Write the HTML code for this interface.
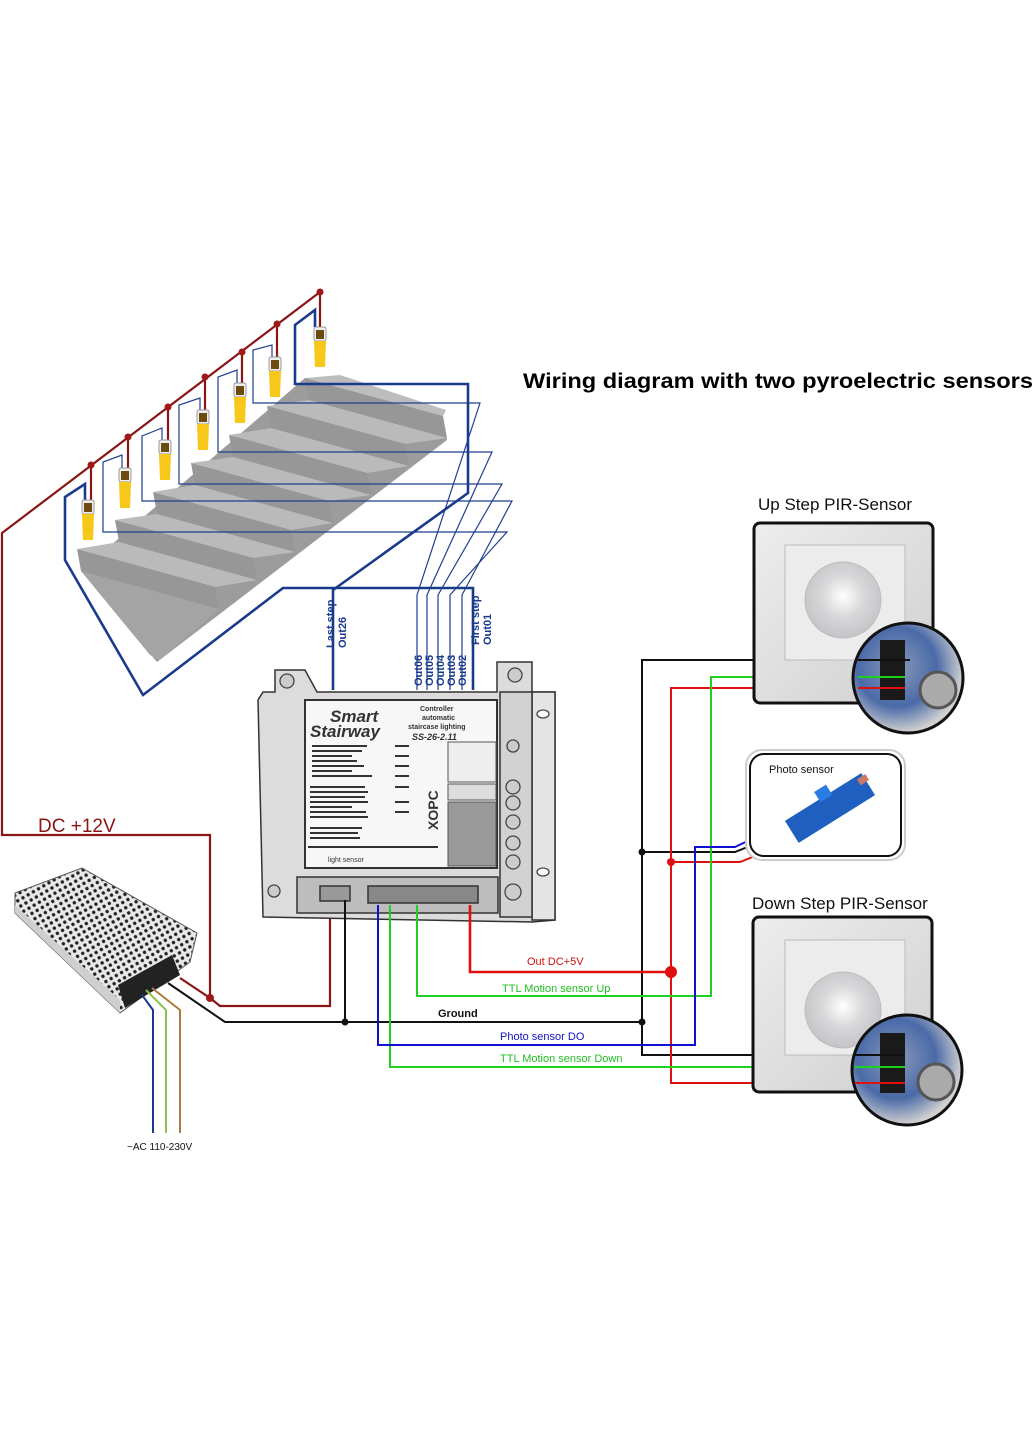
<!DOCTYPE html>
<html><head><meta charset="utf-8"><style>
html,body{margin:0;padding:0;background:#fff}
svg{display:block}
text{font-family:"Liberation Sans",sans-serif}
</style></head><body>
<svg width="1035" height="1440" viewBox="0 0 1035 1440" xmlns="http://www.w3.org/2000/svg">
<defs>
<pattern id="perf" width="6" height="6" patternUnits="userSpaceOnUse" patternTransform="rotate(-30)">
<rect width="6" height="6" fill="#e8e8e8"/><circle cx="3" cy="3" r="1.7" fill="#222"/></pattern>
<radialGradient id="dome" cx="0.5" cy="0.45" r="0.55"><stop offset="0" stop-color="#ffffff"/><stop offset="0.5" stop-color="#d8d8da"/><stop offset="1" stop-color="#c4c4c8"/></radialGradient>
<linearGradient id="plate" x1="0" y1="0" x2="1" y2="1"><stop offset="0" stop-color="#ededed"/><stop offset="1" stop-color="#cfcfcf"/></linearGradient>
<radialGradient id="mag" cx="0.4" cy="0.4" r="0.6"><stop offset="0" stop-color="#8a9ab8"/><stop offset="0.6" stop-color="#4a6aa8"/><stop offset="1" stop-color="#d0d0d0"/></radialGradient>
</defs>

<text x="523" y="388" font-size="21" font-weight="bold" fill="#000" textLength="510" lengthAdjust="spacingAndGlyphs">Wiring diagram with two pyroelectric sensors</text>

<!-- staircase -->
<polygon points="81,571 157,662 447,440 443,417 305,378" fill="#9c9c9c"/>
<g stroke="none">
<polygon points="305,378 340,375 446,410 443,416" fill="#bdbdbd"/>
<polygon points="305,378 443,416 447,438 309,400" fill="#979797"/>
<polygon points="309,400 447,438 405,444 267,406" fill="#bababa"/>
<polygon points="267,406 405,444 409,466 271,428" fill="#979797"/>
<polygon points="271,428 409,466 367,473 229,435" fill="#bababa"/>
<polygon points="229,435 367,473 371,495 233,457" fill="#979797"/>
<polygon points="233,457 371,495 329,501 191,463" fill="#bababa"/>
<polygon points="191,463 329,501 333,523 195,485" fill="#979797"/>
<polygon points="195,485 333,523 291,530 153,492" fill="#bababa"/>
<polygon points="153,492 291,530 295,552 157,514" fill="#979797"/>
<polygon points="157,514 295,552 253,558 115,520" fill="#bababa"/>
<polygon points="115,520 253,558 257,580 119,542" fill="#979797"/>
<polygon points="119,542 257,580 215,587 77,549" fill="#bababa"/>
<polygon points="77,549 215,587 219,609 81,571" fill="#979797"/>
<polygon points="81,571 219,609 160,660 150,655" fill="#a4a4a4"/>
</g>

<g stroke="#8b1414" stroke-width="2.2" fill="none">
<path d="M320,292 L2,533 V835 H210 V998 L220,1006 H330 V900"/>
<path d="M180,978 L210,998"/>
<path d="M91,465 V500 M128,437 V468 M168,407 V440 M205,377 V410 M242,352 V383 M277,324 V357 M320,292 V327"/>
</g>
<g fill="#a01818">
<circle cx="91" cy="465" r="3.5"/><circle cx="128" cy="437" r="3.5"/><circle cx="168" cy="407" r="3.5"/><circle cx="205" cy="377" r="3.5"/><circle cx="242" cy="352" r="3.5"/><circle cx="277" cy="324" r="3.5"/><circle cx="320" cy="292" r="3.5"/><circle cx="210" cy="998" r="4"/>
</g>

<g stroke="#1a3a8c" stroke-width="2.6" fill="none">
<path d="M85,500 V484 L65,497 V560 L143,695 L283,588 H473 V690"/>
<path d="M315,327 V310 L295,325 V384 H468 V493 L333,590 V690"/>
</g>
<g stroke="#1f3f8f" stroke-width="1.2" fill="none">
<path d="M122,468 V455 L103,462 V532 H507 L450,595 V690"/>
<path d="M162,440 V428 L142,436 V501 H512 L462,595 V690"/>
<path d="M200,410 V398 L179,405 V484 H502 L438,595 V690"/>
<path d="M237,383 V370 L218,377 V452 H492 L427,595 V690"/>
<path d="M272,357 V345 L253,350 V403 H480 L417,595 V690"/>
</g>

<g>
<g transform="translate(88,500)"><rect x="-6" y="0" width="12" height="14" rx="2" fill="#eee" stroke="#999"/><rect x="-4" y="3" width="8" height="9" fill="#6b4b10"/><path d="M-6,14 H6 L5,40 H-5 Z" fill="#f7c719"/></g>
<g transform="translate(125,468)"><rect x="-6" y="0" width="12" height="14" rx="2" fill="#eee" stroke="#999"/><rect x="-4" y="3" width="8" height="9" fill="#6b4b10"/><path d="M-6,14 H6 L5,40 H-5 Z" fill="#f7c719"/></g>
<g transform="translate(165,440)"><rect x="-6" y="0" width="12" height="14" rx="2" fill="#eee" stroke="#999"/><rect x="-4" y="3" width="8" height="9" fill="#6b4b10"/><path d="M-6,14 H6 L5,40 H-5 Z" fill="#f7c719"/></g>
<g transform="translate(203,410)"><rect x="-6" y="0" width="12" height="14" rx="2" fill="#eee" stroke="#999"/><rect x="-4" y="3" width="8" height="9" fill="#6b4b10"/><path d="M-6,14 H6 L5,40 H-5 Z" fill="#f7c719"/></g>
<g transform="translate(240,383)"><rect x="-6" y="0" width="12" height="14" rx="2" fill="#eee" stroke="#999"/><rect x="-4" y="3" width="8" height="9" fill="#6b4b10"/><path d="M-6,14 H6 L5,40 H-5 Z" fill="#f7c719"/></g>
<g transform="translate(275,357)"><rect x="-6" y="0" width="12" height="14" rx="2" fill="#eee" stroke="#999"/><rect x="-4" y="3" width="8" height="9" fill="#6b4b10"/><path d="M-6,14 H6 L5,40 H-5 Z" fill="#f7c719"/></g>
<g transform="translate(320,327)"><rect x="-6" y="0" width="12" height="14" rx="2" fill="#eee" stroke="#999"/><rect x="-4" y="3" width="8" height="9" fill="#6b4b10"/><path d="M-6,14 H6 L5,40 H-5 Z" fill="#f7c719"/></g>
</g>

<g fill="#1a3a8c" font-size="11" font-weight="bold">
<text transform="translate(334,648) rotate(-90)">Last step</text>
<text transform="translate(346,648) rotate(-90)">Out26</text>
<text transform="translate(422,686) rotate(-90)">Out06</text>
<text transform="translate(433,686) rotate(-90)">Out05</text>
<text transform="translate(444,686) rotate(-90)">Out04</text>
<text transform="translate(455,686) rotate(-90)">Out03</text>
<text transform="translate(466,686) rotate(-90)">Out02</text>
<text transform="translate(479,645) rotate(-90)">First step</text>
<text transform="translate(491,645) rotate(-90)">Out01</text>
</g>

<g stroke="#333" stroke-width="1.5">
<polygon points="275,670 305,670 317,692 497,692 497,662 532,662 532,692 555,692 555,920 532,922 263,917 258,700 263,692 275,692" fill="#dcdcdc"/>
<rect x="532" y="692" width="23" height="228" fill="#e4e4e4"/>
<rect x="500" y="692" width="32" height="225" fill="#d2d2d2"/>
<rect x="305" y="700" width="192" height="168" fill="#f7f7f7" stroke-width="2"/>
<rect x="297" y="877" width="201" height="36" fill="#bdbdbd"/>
<rect x="320" y="886" width="30" height="15" fill="#999"/>
<rect x="368" y="886" width="110" height="17" fill="#888"/>
</g>
<g fill="#ccc" stroke="#444" stroke-width="1.3">
<circle cx="287" cy="681" r="7"/><circle cx="515" cy="675" r="7"/><circle cx="274" cy="891" r="6"/><circle cx="513" cy="892" r="8"/>
<circle cx="513" cy="746" r="6"/><circle cx="513" cy="787" r="7"/><circle cx="513" cy="803" r="7"/><circle cx="513" cy="822" r="7"/><circle cx="513" cy="843" r="7"/><circle cx="513" cy="862" r="7"/>
<ellipse cx="543" cy="714" rx="6" ry="4" fill="#fff"/><ellipse cx="543" cy="872" rx="6" ry="4" fill="#fff"/>
</g>
<g fill="#333">
<text x="330" y="722" font-size="17" font-style="italic" font-weight="bold">Smart</text>
<text x="310" y="737" font-size="17" font-style="italic" font-weight="bold">Stairway</text>
<text x="420" y="711" font-size="7" font-weight="bold">Controller</text>
<text x="422" y="720" font-size="7" font-weight="bold">automatic</text>
<text x="408" y="729" font-size="7" font-weight="bold">staircase lighting</text>
<text x="412" y="740" font-size="9" font-weight="bold" font-style="italic">SS-26-2.11</text>
<rect x="312" y="745" width="55" height="2"/><rect x="312" y="750" width="50" height="2"/><rect x="312" y="755" width="40" height="2"/><rect x="312" y="760" width="45" height="2"/><rect x="312" y="765" width="52" height="2"/><rect x="312" y="770" width="40" height="2"/><rect x="312" y="775" width="60" height="2"/>
<rect x="310" y="786" width="55" height="2"/><rect x="310" y="791" width="58" height="2"/><rect x="310" y="796" width="55" height="2"/><rect x="310" y="801" width="58" height="2"/><rect x="310" y="806" width="42" height="2"/><rect x="310" y="811" width="56" height="2"/><rect x="310" y="816" width="58" height="2"/>
<rect x="310" y="827" width="52" height="2"/><rect x="310" y="832" width="48" height="2"/><rect x="310" y="837" width="50" height="2"/>
<rect x="308" y="846" width="130" height="2"/>
<rect x="395" y="745" width="14" height="2"/><rect x="395" y="755" width="14" height="2"/><rect x="395" y="765" width="14" height="2"/><rect x="395" y="775" width="14" height="2"/><rect x="395" y="786" width="14" height="2"/><rect x="395" y="801" width="14" height="2"/><rect x="395" y="811" width="14" height="2"/>
<text transform="translate(438,830) rotate(-90)" font-size="14" font-weight="bold">XOPC</text>
<text x="328" y="862" font-size="7">light sensor</text>
</g>
<rect x="448" y="742" width="48" height="40" fill="#eee" stroke="#555"/>
<rect x="448" y="784" width="48" height="16" fill="#ddd" stroke="#555"/>
<rect x="448" y="802" width="48" height="64" fill="#9a9a9a" stroke="#555"/>

<g fill="none" stroke-width="2">
<path d="M168,983 L225,1022 H642" stroke="#111"/>
<path d="M345,900 V1022" stroke="#111"/>
<path d="M905,660 H642 V1055 H905" stroke="#111"/>
<path d="M642,852 H735 L760,842 L790,825" stroke="#111"/>
<path d="M470,905 V972 H671" stroke="#e01010" stroke-width="2.6"/>
<path d="M905,688 H671 V1083 H905" stroke="#e01010"/>
<path d="M671,862 H740 L770,850 L795,830" stroke="#e01010"/>
<path d="M417,905 V996 H711 V677 H905" stroke="#20d020"/>
<path d="M390,905 V1067 H905" stroke="#20d020"/>
<path d="M378,905 V1045 H695 V847 H735 L775,828" stroke="#1010d0"/>
</g>
<circle cx="671" cy="972" r="6" fill="#e01010"/>
<circle cx="671" cy="862" r="4" fill="#e01010"/>
<circle cx="642" cy="852" r="3.5" fill="#111"/>
<circle cx="642" cy="1022" r="3.5" fill="#111"/>
<circle cx="345" cy="1022" r="3.5" fill="#111"/>

<g font-size="11">
<text x="527" y="965" fill="#d01010">Out DC+5V</text>
<text x="502" y="992" fill="#22c022">TTL Motion sensor Up</text>
<text x="438" y="1017" fill="#111" font-weight="bold">Ground</text>
<text x="500" y="1040" fill="#1010c0">Photo sensor DO</text>
<text x="500" y="1062" fill="#22c022">TTL Motion sensor Down</text>
</g>

<text x="38" y="832" font-size="19" fill="#8b1414">DC +12V</text>

<polygon points="15,893 82,868 197,933 190,962 120,1013 15,913" fill="url(#perf)" stroke="#555"/>
<polygon points="15,905 120,1000 120,1013 15,913" fill="#cfcfcf"/>
<polygon points="118,985 172,955 180,975 125,1008" fill="#222"/>
<g fill="none" stroke-width="2">
<path d="M142,995 L153,1010 V1133" stroke="#1a3a8c"/>
<path d="M146,990 L166,1010 V1133" stroke="#8bc34a"/>
<path d="M152,988 L180,1010 V1133" stroke="#b07840"/>
</g>
<text x="127" y="1150" font-size="10" fill="#111">~AC 110-230V</text>

<text x="758" y="510" font-size="17" fill="#111">Up Step PIR-Sensor</text>
<rect x="754" y="523" width="179" height="180" rx="6" fill="url(#plate)" stroke="#111" stroke-width="3"/>
<rect x="785" y="545" width="120" height="115" fill="#ececec" stroke="#bbb"/>
<circle cx="843" cy="600" r="38" fill="url(#dome)" stroke="#bbb"/>
<circle cx="908" cy="678" r="55" fill="url(#mag)" stroke="#111" stroke-width="3"/>
<rect x="880" y="640" width="25" height="60" fill="#1a1a1a"/>
<circle cx="938" cy="690" r="18" fill="#aaa" stroke="#555" stroke-width="3"/>
<path d="M858,660 H910" stroke="#111" stroke-width="2"/>
<path d="M858,677 H905" stroke="#20d020" stroke-width="2"/>
<path d="M858,688 H905" stroke="#e01010" stroke-width="2"/>

<rect x="746" y="750" width="159" height="110" rx="16" fill="#fff" stroke="#ccc" stroke-width="2"/>
<rect x="750" y="754" width="151" height="102" rx="14" fill="#fff" stroke="#111" stroke-width="2"/>
<text x="769" y="773" font-size="11" fill="#111">Photo sensor</text>
<g transform="translate(830,808) rotate(-32)">
<rect x="-45" y="-13" width="90" height="26" fill="#1e5fc0"/>
<rect x="-5" y="-22" width="14" height="12" fill="#2a7de0"/>
<rect x="38" y="-10" width="10" height="7" fill="#c87a6a"/>
</g>

<text x="752" y="909" font-size="17" fill="#111">Down Step PIR-Sensor</text>
<rect x="753" y="917" width="179" height="175" rx="6" fill="url(#plate)" stroke="#111" stroke-width="3"/>
<rect x="785" y="940" width="120" height="115" fill="#ececec" stroke="#bbb"/>
<circle cx="843" cy="1010" r="38" fill="url(#dome)" stroke="#bbb"/>
<circle cx="907" cy="1070" r="55" fill="url(#mag)" stroke="#111" stroke-width="3"/>
<rect x="880" y="1033" width="25" height="60" fill="#1a1a1a"/>
<circle cx="936" cy="1082" r="18" fill="#aaa" stroke="#555" stroke-width="3"/>
<path d="M855,1055 H905" stroke="#111" stroke-width="2"/>
<path d="M855,1067 H905" stroke="#20d020" stroke-width="2"/>
<path d="M855,1083 H905" stroke="#e01010" stroke-width="2"/>
</svg>
</body></html>
